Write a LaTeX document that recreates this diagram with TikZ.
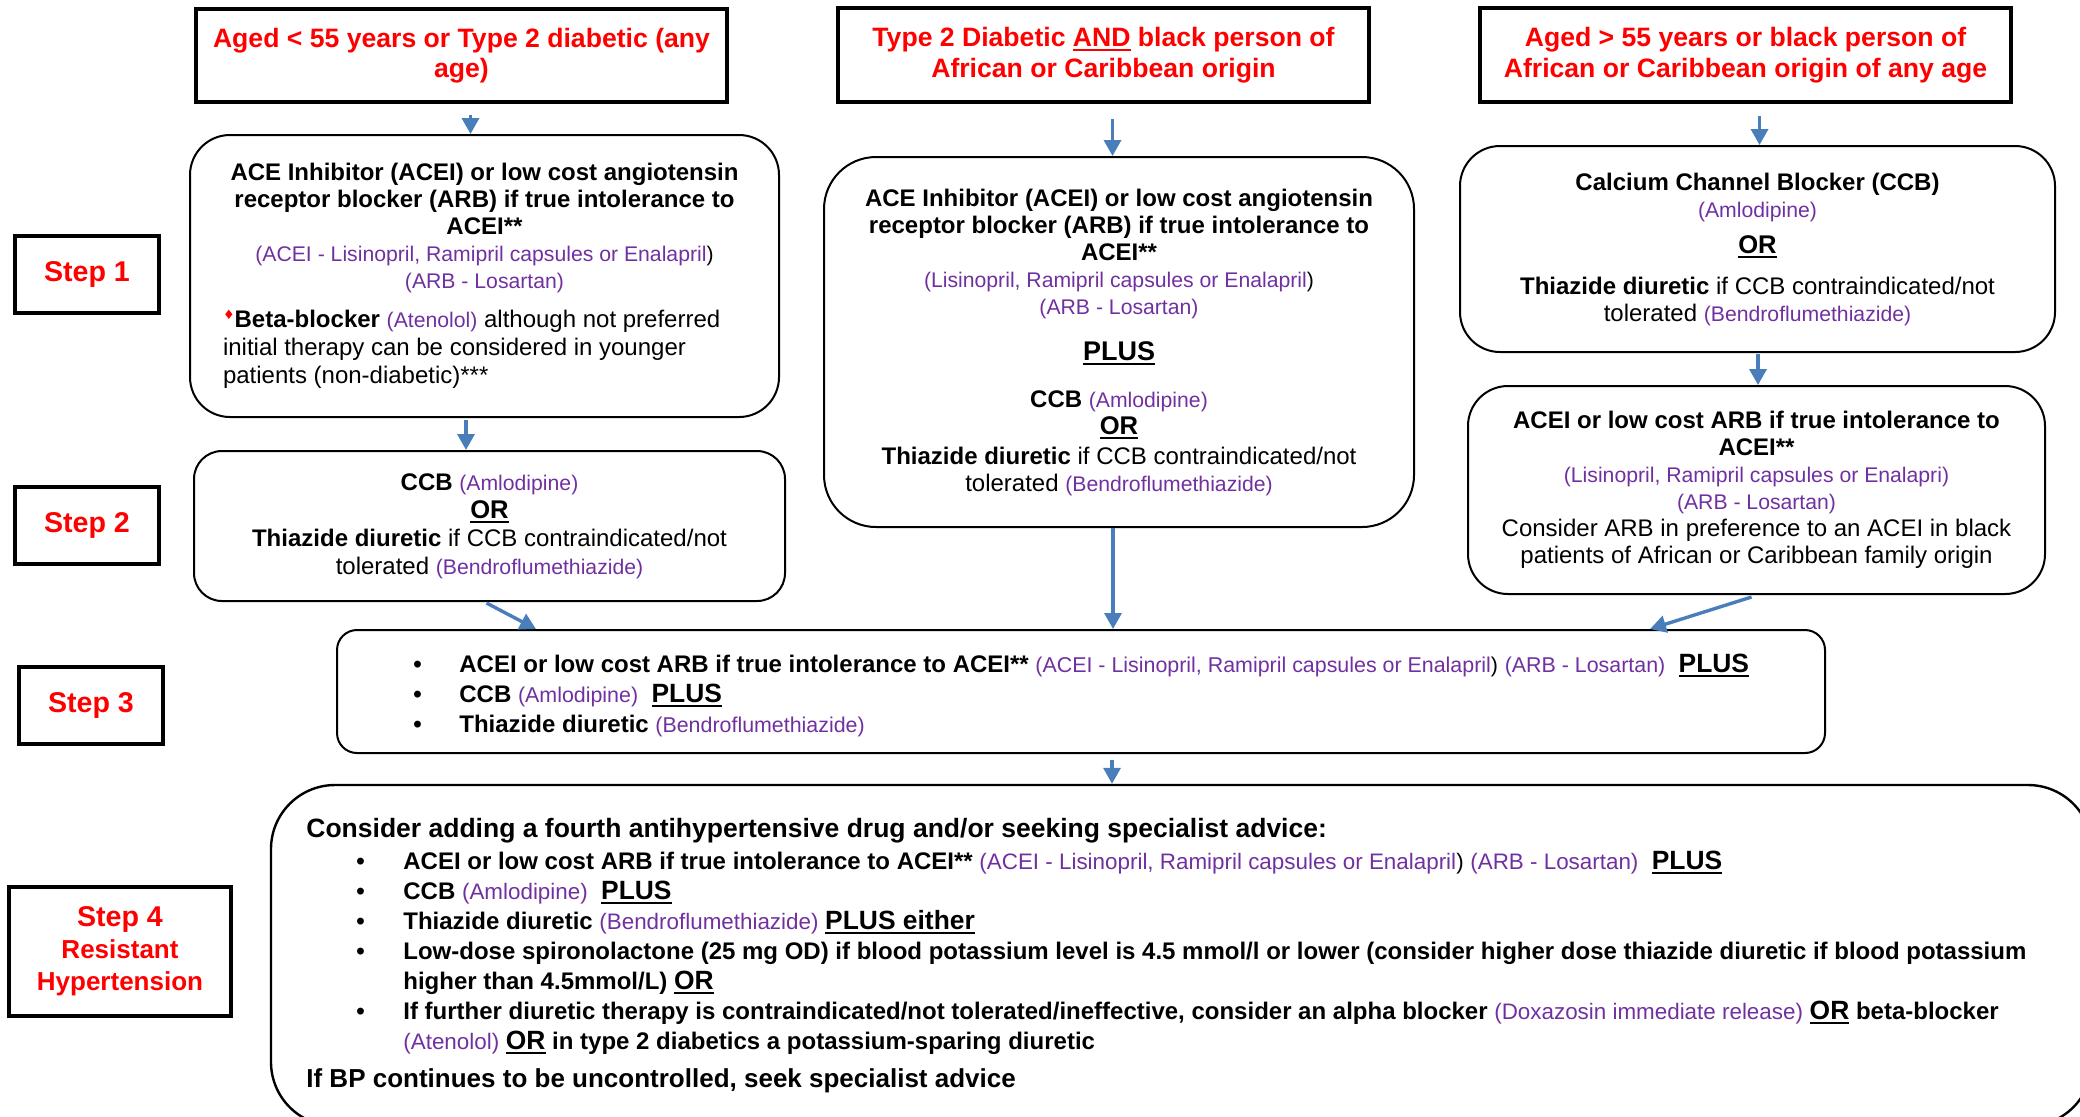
\documentclass[tikz,border=0pt]{standalone}
\usepackage{fontspec}
\setmainfont{Liberation Sans}
\newfontfamily\symfont{DejaVu Sans}
\usetikzlibrary{arrows.meta,calc}
\definecolor{drugpurple}{HTML}{7030A0}
\definecolor{arrowblue}{HTML}{4A7EBB}
\definecolor{headred}{HTML}{FF0000}
\newcommand{\drug}[1]{{\mdseries\fontsize{10.6}{12}\selectfont\color{drugpurple}#1}}
\newcommand{\drugb}[1]{{\mdseries\fontsize{10.6}{12}\selectfont{\color{drugpurple}#1})}}
\newcommand{\drugx}[2]{{\mdseries\fontsize{#1}{12}\selectfont\color{drugpurple}#2}}
\newcommand{\undl}[1]{\leavevmode{\setbox0=\hbox{#1}\rlap{\rule[-2.4pt]{\wd0}{1.1pt}}\box0}}
\newcommand{\plusu}[1]{\leavevmode{\bfseries\fontsize{13.5}{15}\selectfont\undl{#1}}}
\newcommand{\oru}[1]{\leavevmode{\bfseries\fontsize{12.8}{14}\selectfont\undl{#1}}}
\newcommand{\bigu}[1]{\leavevmode{\bfseries\fontsize{13.2}{15}\selectfont\undl{#1}}}
\newcommand{\rdiamond}{\raisebox{4pt}{\color{headred}\fontsize{6.5}{7}\symfont ♦}}
\begin{document}
\begin{tikzpicture}[x=0.5pt,y=-0.5pt,
  bx/.style args={#1/#2/#3/#4}{at={({(#1+#3)/2},{(#2+#4)/2})}, minimum width={(#3-#1)*0.5pt}, minimum height={(#4-#2)*0.5pt}},
  hbox/.style={draw, line width=1.75pt, inner sep=0pt, align=center, text=headred, font=\fontsize{13.3}{15.25}\selectfont\bfseries},
  stepbox/.style={draw, line width=1.75pt, inner sep=0pt, align=center, text=headred, font=\fontsize{14.3}{16}\selectfont\bfseries},
  rbox/.style={draw, line width=1pt, inner sep=0pt, align=center, font=\fontsize{12}{13.5}\selectfont\bfseries},
  txt/.style={inner sep=0pt, anchor=west, font=\fontsize{12}{15}\selectfont\bfseries},
  arr/.style={draw=arrowblue, line width=1.7pt, -{Triangle[length=8pt,width=8.5pt]}}]
\useasboundingbox (0,0) rectangle (2080,1116);
\clip (0,0) rectangle (2080,1116);

% top condition boxes
\node[hbox, bx=196/9/727/102] (A) {Aged < 55 years or Type 2 diabetic (any\\age)};
\node[hbox, bx=838/8/1369/102] (B) {Type 2 Diabetic \undl{AND} black person of\\African or Caribbean origin};
\node[hbox, bx=1480/8/2011/102] (C) {Aged > 55 years or black person of\\African or Caribbean origin of any age};

% step labels
\node[stepbox, bx=15/236/159/313] (st1) {Step 1};
\node[stepbox, bx=15/487/159/564] (st2) {Step 2};
\node[stepbox, bx=19/667/163/744] (st3) {Step 3};
\node[stepbox, bx=9/887/231/1016] (st4) {Step 4\\{\fontsize{13}{16}\selectfont Resistant}\\{\fontsize{13}{16}\selectfont Hypertension}};

% left column
\node[rbox, rounded corners=20pt, bx=190/135/779/417] (s1) {\begin{minipage}{261.5pt}
{\centering\fontsize{12}{13.5}\selectfont ACE Inhibitor (ACEI) or low cost angiotensin\\ receptor blocker (ARB) if true intolerance to\\ ACEI**\\ \drugb{(ACEI - Lisinopril, Ramipril capsules or Enalapril}\\ \drug{(ARB - Losartan)}\par}
\vspace{5.5pt}
{\raggedright\fontsize{12}{14}\selectfont\mdseries\rdiamond\textbf{Beta-blocker} \drug{(Atenolol)} although not preferred\\ initial therapy can be considered in younger\\ patients (non-diabetic)***\par}
\end{minipage}};

\node[rbox, rounded corners=14pt, bx=194/451/785/601, font=\fontsize{12}{14}\selectfont\bfseries] (s2) {CCB \drug{(Amlodipine)}\\\oru{OR}\\Thiazide diuretic {\mdseries if CCB contraindicated/not}\\{\mdseries tolerated} \drug{(Bendroflumethiazide)}};

% middle column
\node[rbox, rounded corners=26pt, bx=824/157/1414/527] (m) {ACE Inhibitor (ACEI) or low cost angiotensin\\receptor blocker (ARB) if true intolerance to\\ACEI**\\\drugb{(Lisinopril, Ramipril capsules or Enalapril}\\\drug{(ARB - Losartan)}\\[9.5pt]\plusu{PLUS}\\[10pt]CCB \drug{(Amlodipine)}\\\oru{OR}\\[1.5pt]Thiazide diuretic {\mdseries if CCB contraindicated/not}\\{\mdseries tolerated} \drug{(Bendroflumethiazide)}};

% right column
\node[rbox, rounded corners=20pt, bx=1460/146/2055/352] (r1) {Calcium Channel Blocker (CCB)\\\drug{(Amlodipine)}\\[4.5pt]\oru{OR}\\[7pt]Thiazide diuretic {\mdseries if CCB contraindicated/not}\\{\mdseries tolerated} \drug{(Bendroflumethiazide)}};

\node[rbox, rounded corners=20pt, bx=1468/386/2045/594] (r2) {ACEI or low cost ARB if true intolerance to\\ACEI**\\\drug{(Lisinopril, Ramipril capsules or Enalapri)}\\\drug{(ARB - Losartan)}\\{\mdseries Consider ARB in preference to an ACEI in black}\\{\mdseries patients of African or Caribbean family origin}};

% step 3
\node[rbox, rounded corners=10pt, bx=337/630/1825/753] (s3) {};
\node[txt] (s3t) at (413,696) {\begin{tabular}{@{}p{23pt}@{}l@{}}
• & ACEI or low cost ARB if true intolerance to ACEI** \drugx{10.7}{(ACEI - Lisinopril, Ramipril capsules or Enalapril}{\mdseries\fontsize{10.7}{12}\selectfont)} \drugx{10.7}{(ARB - Losartan)}\ \ \bigu{PLUS}\\
• & CCB \drugx{10.7}{(Amlodipine)}\ \ \bigu{PLUS}\\
• & Thiazide diuretic \drugx{10.7}{(Bendroflumethiazide)}
\end{tabular}};

% step 4
\node[rbox, line width=1.2pt, rounded corners=32pt, bx=271/785/2092/1126] (s4) {};
\node[txt] (s4t) at (306,956) {\begin{tabular}{@{}p{25pt}@{}p{23.5pt}@{}l@{}}
\multicolumn{3}{@{}l@{}}{\fontsize{13.25}{15}\selectfont Consider adding a fourth antihypertensive drug and/or seeking specialist advice:}\\[1pt]
& • & ACEI or low cost ARB if true intolerance to ACEI** \drugx{11.2}{(ACEI - Lisinopril, Ramipril capsules or Enalapril}{\mdseries\fontsize{11.2}{12}\selectfont)} \drugx{11.2}{(ARB - Losartan)}\ \ \bigu{PLUS}\\
& • & CCB \drugx{11.2}{(Amlodipine)}\ \ \bigu{PLUS}\\
& • & Thiazide diuretic \drugx{11.2}{(Bendroflumethiazide)} \bigu{PLUS either}\\
& • & Low-dose spironolactone (25 mg OD) if blood potassium level is 4.5 mmol/l or lower (consider higher dose thiazide diuretic if blood potassium\\
& & higher than 4.5mmol/L) \bigu{OR}\\
& • & If further diuretic therapy is contraindicated/not tolerated/ineffective, consider an alpha blocker \drugx{11.2}{(Doxazosin immediate release)} \bigu{OR} beta-blocker\\
& & \drugx{11.2}{(Atenolol)} \bigu{OR} in type 2 diabetics a potassium-sparing diuretic\\[4pt]
\multicolumn{3}{@{}l@{}}{\fontsize{13}{15}\selectfont If BP continues to be uncontrolled, seek specialist advice}
\end{tabular}};

% arrows
\draw[arr] ($(A.south)+(9,11)$) -- ($(s1.north)+(-14,0)$);
\draw[arr] ($(B.south)+(9,15)$) -- ($(m.north)+(-6.5,0)$);
\draw[arr] ($(C.south)+(14,12)$) -- ($(r1.north)+(2,0)$);
\draw[arr] ($(s1.south)+(-18.5,2)$) -- ($(s2.north)+(-23.5,0)$);
\draw[arr] ($(r1.south)+(0.5,1)$) -- ($(r2.north)+(1.5,0)$);
\draw[arr] ($(s2.south)+(-3,1)$) -- ($(s3.north west)+(200,0)$);
\draw[arr] ($(m.south)+(-6,0)$) -- ($(s3.north)+(32,0)$);
\draw[arr] ($(r2.south)+(-5,2)$) -- ($(s3.north east)+(-176,0)$);
\draw[arr] ($(s3.south)+(31,6)$) -- ($(s4.north)+(-69.5,0)$);
\end{tikzpicture}
\end{document}
